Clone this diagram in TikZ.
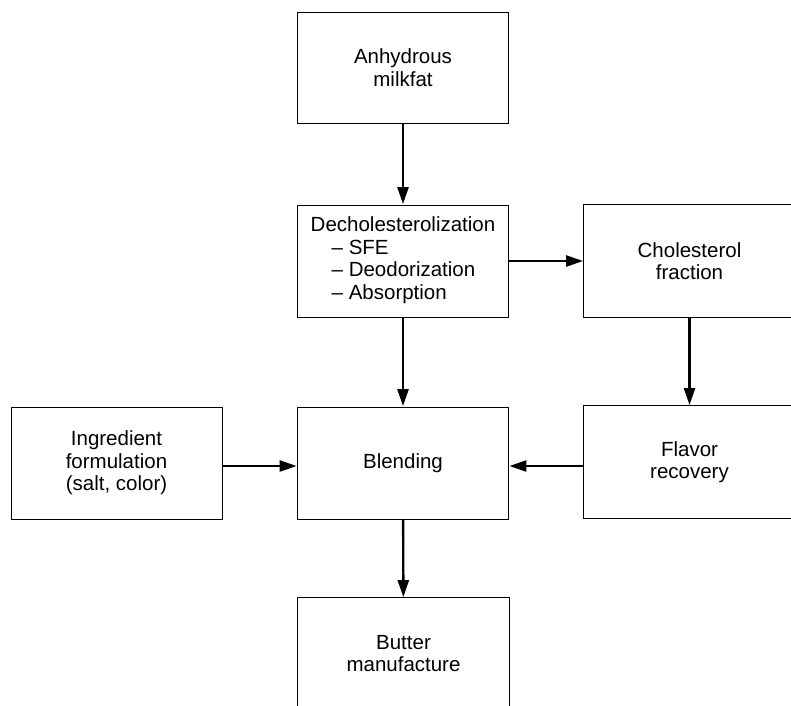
\documentclass[tikz,border=0pt]{standalone}
\usepackage{fontspec}
\setmainfont{Liberation Sans}
\usetikzlibrary{arrows.meta}
\begin{document}
\begin{tikzpicture}[x=1pt,y=-1pt,
  procbox/.style={draw=black, line width=0.8pt, minimum width=211pt, minimum height=111pt,
    inner sep=0pt, align=center, font=\fontsize{20.5}{22.5}\selectfont},
  openbox/.style={procbox, draw=none},
  boxline/.style={draw=black, line width=0.8pt},
  flow/.style={line width=2.4pt, -{Triangle[length=17pt,width=11pt]}, shorten >=0.5pt}]
\useasboundingbox (0,0) rectangle (791,705);
\node[procbox] (b1) at (403,67.5) {Anhydrous\\milkfat};
\node[procbox, minimum height=112pt] (b2) at (403,261) {\begin{tabular}{@{}l@{}}Decholesterolization\\\hspace*{21pt}– SFE\\\hspace*{21pt}– Deodorization\\\hspace*{21pt}– Absorption\end{tabular}};
\node[openbox, minimum height=112pt] (b3) at (689.5,261) {Cholesterol\\fraction};
\node[procbox, minimum height=112pt] (b4) at (116.5,463) {Ingredient\\formulation\\(salt, color)};
\node[procbox, minimum height=112pt] (b5) at (403,463) {Blending};
\node[openbox, minimum height=112pt] (b6) at (689.5,462) {Flavor\\recovery};
\node[openbox] (b7) at (403.5,653.5) {Butter\\manufacture};
\draw[boxline] ([xshift=20pt]b3.north east) -- (b3.north west) -- (b3.south west) -- ([xshift=20pt]b3.south east);
\draw[boxline] ([xshift=20pt]b6.north east) -- (b6.north west) -- (b6.south west) -- ([xshift=20pt]b6.south east);
\draw[boxline] ([yshift=-20pt]b7.south west) -- (b7.north west) -- (b7.north east) -- ([yshift=-20pt]b7.south east);
\draw[flow] (b1) -- (b2);
\draw[flow] (b2) -- (b5);
\draw[flow] (b5) -- (b7);
\draw[flow] (b2) -- (b3);
\draw[flow] (b3) -- (b6);
\draw[flow] ([yshift=-3pt]b4.east) -- ([yshift=-3pt]b5.west);
\draw[flow] ([yshift=-4pt]b6.west) -- ([yshift=-3pt]b5.east);
\end{tikzpicture}
\end{document}
